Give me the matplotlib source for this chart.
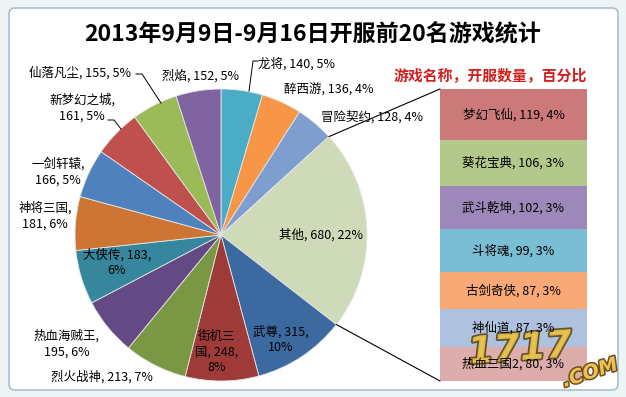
import matplotlib
matplotlib.use('Agg')
import matplotlib.pyplot as plt
from matplotlib.patches import FancyBboxPatch, ConnectionPatch
import matplotlib.patheffects as pe
import numpy as np

plt.rcParams['font.family'] = ['Noto Sans CJK SC', 'DejaVu Sans']

# ---------------- data ----------------
title = "2013年9月9日-9月16日开服前20名游戏统计"
subtitle = "游戏名称，开服数量，百分比"

pie_names = ["龙将", "醉西游", "冒险契约", "其他", "武尊", "街机三国", "烈火战神",
             "热血海贼王", "大侠传", "神将三国", "一剑轩辕", "新梦幻之城", "仙落凡尘", "烈焰"]
pie_values = [140, 136, 128, 680, 315, 248, 213, 195, 183, 181, 166, 161, 155, 152]

bar_names = ["梦幻飞仙", "葵花宝典", "武斗乾坤", "斗将魂", "古剑奇侠", "神仙道", "热血三国2"]
bar_values = [119, 106, 102, 99, 87, 87, 80]

pie_colors = ["#4BACC6", "#F79646", "#7F9ED0", "#CFDAB8", "#3C6AA0", "#9E3B39", "#7A9843",
              "#644A84", "#36879D", "#CC7534", "#4F81BD", "#C0504D", "#9BBB59", "#8064A2"]
bar_colors = ["#CC7A79", "#B2C98B", "#9D88B9", "#7ABED3", "#F8A976", "#AEC1DE", "#DDADAC"]

# ---------------- layout ----------------
W, H = 626, 397
fig = plt.figure(figsize=(W / 100, H / 100), dpi=100)
fig.patch.set_facecolor('#EEF3F6')

ax = fig.add_axes([0, 0, 1, 1])

def Y(p):
    return H - p

# chart frame
frame = FancyBboxPatch((9, Y(390)), 609, 382, boxstyle="round,pad=0,rounding_size=6",
                       facecolor='white', edgecolor='#A9BFCF', linewidth=1.2, zorder=0)
ax.add_patch(frame)

cx, cy, R = 221, Y(235), 146
ax.pie(pie_values, colors=pie_colors, startangle=90, counterclock=False,
       center=(cx, cy), radius=R, frame=True,
       wedgeprops=dict(edgecolor='#E6E6E6', linewidth=0.6))
ax.set_xlim(0, W)
ax.set_ylim(0, H)
ax.set_aspect('auto')
ax.axis('off')

total = sum(pie_values)

def lab(name, v, sep=(", ", ", ")):
    return f"{name}{sep[0]}{v}{sep[1]}{round(100 * v / total)}%"

fs = 9
# label positions (pixel coords) and line layouts
pie_label_layout = {
    "龙将": ((297, 64), lambda n, v: lab(n, v)),
    "醉西游": ((329, 90), lambda n, v: lab(n, v)),
    "冒险契约": ((372, 117), lambda n, v: lab(n, v)),
    "其他": ((321, 235), lambda n, v: lab(n, v)),
    "武尊": ((281, 340), lambda n, v: lab(n, v, (", ", ",\n"))),
    "街机三国": ((217, 352), lambda n, v: f"街机三\n国, {v},\n{round(100 * v / total)}%"),
    "烈火战神": ((102, 377), lambda n, v: lab(n, v)),
    "热血海贼王": ((67, 344), lambda n, v: lab(n, v, (",\n", ", "))),
    "大侠传": ((117, 263), lambda n, v: lab(n, v, (", ", ",\n"))),
    "神将三国": ((45, 216), lambda n, v: lab(n, v, (",\n", ", "))),
    "一剑轩辕": ((58, 172), lambda n, v: lab(n, v, (",\n", ", "))),
    "新梦幻之城": ((82, 108), lambda n, v: lab(n, v, (",\n", ", "))),
    "仙落凡尘": ((80, 73), lambda n, v: lab(n, v)),
    "烈焰": ((200, 76), lambda n, v: lab(n, v)),
}
for n, v in zip(pie_names, pie_values):
    (px, py), f = pie_label_layout[n]
    ax.text(px, Y(py), f(n, v), ha='center', va='center', fontsize=fs,
            color='black', linespacing=1.25, zorder=5)

# leader lines
leaders = [
    [(136, 74), (142, 74), (161, 103)],
    [(108, 120), (114, 120), (121, 129)],
    [(258, 61), (253, 61), (249, 91)],
]
for pts in leaders:
    xs = [p[0] for p in pts]
    ys = [Y(p[1]) for p in pts]
    ax.plot(xs, ys, color='black', lw=0.7, zorder=4)

# title
ax.text(313, Y(35), title, ha='center', va='center', fontsize=16.6, fontweight='bold')
ax.text(490, Y(76), subtitle, ha='center', va='center', fontsize=10.7,
        fontweight='bold', color='#D0201E')

# ---------------- secondary bar ----------------
bx0, bx1, by0, by1 = 440, 587, 89, 381
bax = fig.add_axes([bx0 / W, (H - by1) / H, (bx1 - bx0) / W, (by1 - by0) / H])
btotal = sum(bar_values)
cum = 0
for n, v, c in zip(bar_names, bar_values, bar_colors):
    bax.bar(0, v, bottom=cum, width=1, color=c, edgecolor='none', zorder=1)
    bax.text(0, cum + v / 2, lab(n, v), ha='center', va='center', fontsize=fs, zorder=4)
    cum += v
bax.set_xlim(-0.5, 0.5)
bax.set_ylim(btotal, 0)
bax.axis('off')

# connecting lines
idx = pie_names.index("其他")
start_frac = sum(pie_values[:idx]) / total
end_frac = sum(pie_values[:idx + 1]) / total
for frac, yb in [(start_frac, 0), (end_frac, btotal)]:
    th = np.deg2rad(90 - 360 * frac)
    p = (cx + R * np.cos(th), cy + R * np.sin(th))
    con = ConnectionPatch(xyA=p, coordsA=ax.transData, xyB=(-0.5, yb), coordsB=bax.transData,
                          color='black', lw=0.8, zorder=10)
    fig.add_artist(con)

# watermark (approximation), drawn under the bar labels
bax.text(520 / W, (H - 350) / H, "1717", fontsize=27, fontweight='bold', fontstyle='italic',
         color='#E9C44C', ha='center', va='center', rotation=4, alpha=0.9,
         family='DejaVu Sans', transform=fig.transFigure, clip_on=False, zorder=2,
         path_effects=[pe.withStroke(linewidth=2.5, foreground='#5A4520')])
bax.text(590 / W, (H - 373) / H, ".COM", fontsize=14, fontweight='bold', fontstyle='italic',
         color='#F0C050', ha='center', va='center', rotation=18, family='DejaVu Sans',
         transform=fig.transFigure, clip_on=False, zorder=2,
         path_effects=[pe.withStroke(linewidth=2.2, foreground='#6A5020')])

fig.savefig('out.png', dpi=100, facecolor=fig.get_facecolor())
